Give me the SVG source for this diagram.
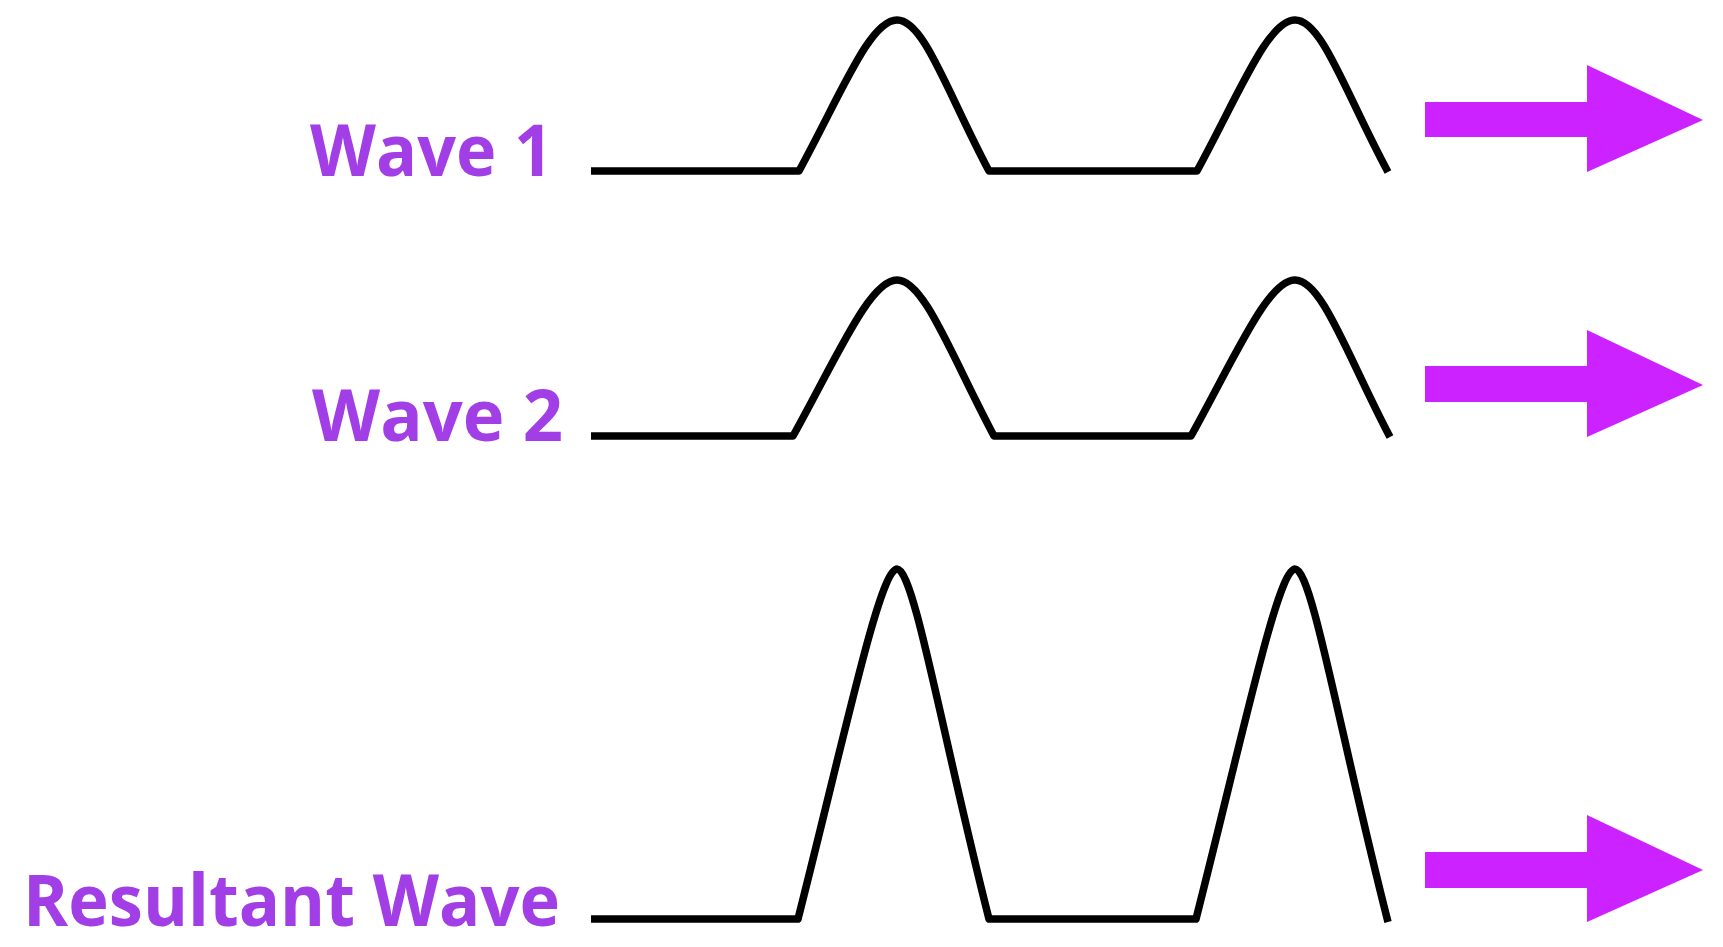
<svg xmlns="http://www.w3.org/2000/svg" width="1723" height="947" viewBox="0 0 1723 947">
<style>
.lbl{font-family:"Open Sans","Liberation Sans",sans-serif;font-weight:700;font-size:72px;fill:#a23ee6}
.wave{fill:none;stroke:#000;stroke-width:7.5;stroke-linejoin:round}
.arrow{fill:#cc22ff}
</style>
<rect width="1723" height="947" fill="#fff"/>
<g id="wave1">
<text class="lbl" x="310" y="176" textLength="243" lengthAdjust="spacingAndGlyphs">Wave 1</text>
<path class="wave" d="M591,171 H799 C842,92 870,20 897,20 C924,20 947,92 989,171 H1197 C1240,92 1268,20 1295,20 C1322,20 1345,92 1388,172"/>
</g>
<g id="wave2">
<text class="lbl" x="312" y="441" textLength="251" lengthAdjust="spacingAndGlyphs">Wave 2</text>
<path class="wave" d="M591,436 H793 C838,355 870,280 897,280 C924,280 951,355 994,436 H1191 C1236,355 1268,280 1295,280 C1322,280 1347,355 1390,437"/>
</g>
<g id="resultant">
<text class="lbl" x="23" y="926" textLength="537" lengthAdjust="spacingAndGlyphs">Resultant Wave</text>
<path class="wave" d="M591,919 H798 C846,730 880,569 897,569 C914,569 941,730 989,919 H1196 C1244,730 1278,569 1295,569 C1312,569 1339,730 1388,922"/>
</g>
<g id="connectors">
<polygon class="arrow" points="1425,102 1587,102 1587,65 1703,120 1587,172 1587,137 1425,137"/>
<polygon class="arrow" points="1425,366 1587,366 1587,330 1703,385 1587,437 1587,402 1425,402"/>
<polygon class="arrow" points="1425,852 1587,852 1587,815 1703,870 1587,922 1587,888 1425,888"/>
</g>
</svg>
